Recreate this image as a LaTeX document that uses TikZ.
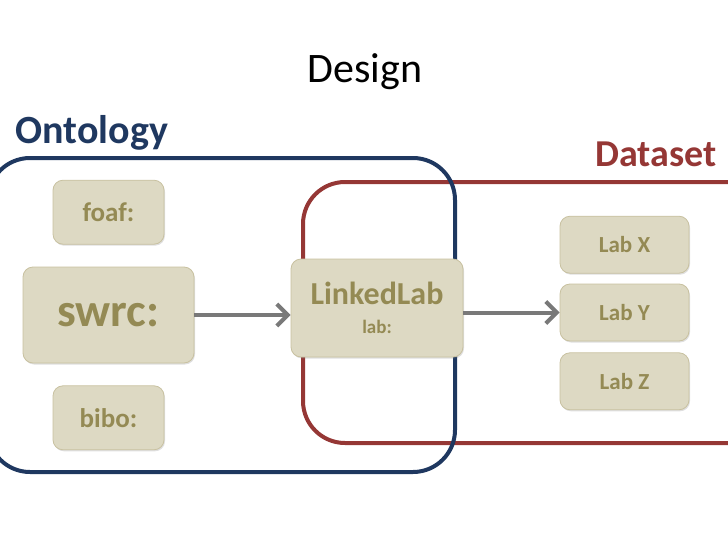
\documentclass[tikz,border=0pt]{standalone}
\usepackage{fontspec}
\setmainfont{Carlito}
\usepackage{tikz}
\usetikzlibrary{positioning,calc,arrows.meta,shadows}
\definecolor{ontBlue}{RGB}{31,56,96}
\definecolor{dsRed}{RGB}{149,55,53}
\definecolor{tanFill}{RGB}{221,217,195}
\definecolor{tanLine}{RGB}{200,193,160}
\definecolor{oliveText}{RGB}{148,138,84}
\colorlet{arrGray}{gray!95!black}

\begin{document}
\begin{tikzpicture}[x=1pt, y=-1pt,
    every node/.style={font=\bfseries, align=center, text=oliveText},
    lbox/.style={draw=tanLine, line width=0.8pt, fill=tanFill, rounded corners=10pt,
        drop shadow={shadow xshift=1pt, shadow yshift=-1.5pt, opacity=0.25}},
    arr/.style={draw=arrGray, line width=4pt, -{Straight Barb[length=11pt, width=22pt]}},
    node distance=10pt]
        \useasboundingbox (0,0) rectangle (728,546);
        \clip (0,0) rectangle (728,546);

        % title and group labels
        \node[font=\mdseries\fontsize{42}{48}\selectfont, text=black, anchor=base] (title) at (365,82) {Design};
        \node[font=\bfseries\fontsize{40}{46}\selectfont, text=ontBlue, anchor=base west] (ontlabel) at (12,143) {Ontology};
        \node[font=\bfseries\fontsize{38}{44}\selectfont, text=dsRed, anchor=base east] (dslabel) at (720,166) {Dataset};

        % the two groups
        \draw[dsRed, line width=4pt, rounded corners=42pt] (303,182) rectangle (780,443);
        \draw[ontBlue, line width=4pt, rounded corners=42pt] (-12,158) rectangle (455,472);

        % ontologies
        \node[lbox, minimum width=171pt, minimum height=96pt, font=\bfseries\fontsize{47}{50}\selectfont] (swrc) at (108.5,315) {swrc:};
        \node[lbox, minimum width=111pt, minimum height=64pt, font=\bfseries\fontsize{27}{30}\selectfont, above=22pt of swrc] (foaf) {foaf:};
        \node[lbox, minimum width=111pt, minimum height=64pt, font=\bfseries\fontsize{27}{30}\selectfont, below=22pt of swrc] (bibo) {bibo:};

        \node[lbox, minimum width=172pt, minimum height=98pt, font=\bfseries\fontsize{32}{36}\selectfont] (linked) at (377,308)
            {LinkedLab\\[-7pt]{\fontsize{19}{22}\selectfont lab:}};

        % datasets
        \node[lbox, minimum width=129pt, minimum height=57pt, font=\bfseries\fontsize{23}{27}\selectfont] (laby) at (624.5,312.5) {Lab Y};
        \node[lbox, minimum width=129pt, minimum height=57pt, font=\bfseries\fontsize{23}{27}\selectfont, above=10pt of laby] (labx) {Lab X};
        \node[lbox, minimum width=129pt, minimum height=57pt, font=\bfseries\fontsize{23}{27}\selectfont, below=11pt of laby] (labz) {Lab Z};

        \draw[arr] (swrc.east) -- (swrc.east -| linked.west);
        \draw[arr] (linked.east |- laby.west) -- (laby.west);
    \end{tikzpicture}
\end{document}
